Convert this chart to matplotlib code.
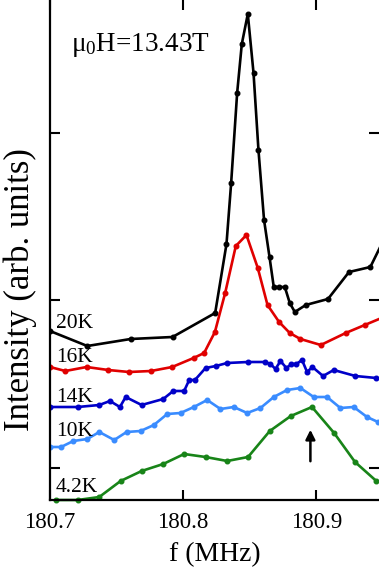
import numpy as np
import matplotlib
matplotlib.use("Agg")
import matplotlib.pyplot as plt

plt.rcParams["font.family"] = ["Liberation Serif", "DejaVu Serif"]
plt.rcParams["mathtext.fontset"] = "custom"
plt.rcParams["mathtext.rm"] = "Liberation Serif"
plt.rcParams["mathtext.it"] = "Liberation Serif:italic"

# frequency (MHz) and intensity (arb. units)
f_20K = [180.700, 180.728, 180.7605, 180.792, 180.824, 180.8325, 180.836, 180.8405,
         180.844, 180.8485, 180.8528, 180.8565, 180.8607, 180.8648, 180.868, 180.872,
         180.8763, 180.880, 180.8838, 180.892, 180.9087, 180.9245, 180.9405, 180.956]
I_20K = [169, 154, 161, 163, 187, 256, 317, 407, 456, 486, 427, 350, 280, 243, 213, 213,
         213, 197, 188, 195, 201, 228, 233, 275]

f_16K = [180.700, 180.7115, 180.7275, 180.7437, 180.7593, 180.7758, 180.7917, 180.8078,
         180.8157, 180.8238, 180.8315, 180.8395, 180.8475, 180.856, 180.8633, 180.872,
         180.880, 180.888, 180.9033, 180.922, 180.9363, 180.9525]
I_16K = [133, 129, 133, 130, 128, 129, 133, 142, 147, 168, 207, 254, 265, 232, 195, 178,
         167, 161, 155, 167, 175, 184]

f_14K = [180.700, 180.7208, 180.737, 180.745, 180.7525, 180.7568, 180.7688, 180.785,
         180.7925, 180.8007, 180.8045, 180.8088, 180.8168, 180.8245, 180.833, 180.8487,
         180.8613, 180.8655, 180.8693, 180.873, 180.8775, 180.8813, 180.885, 180.8892,
         180.893, 180.897, 180.905, 180.913, 180.9293, 180.945]
I_14K = [93, 93, 95, 99, 93, 103, 95, 101, 109, 109, 120, 120, 132, 134, 137, 138,
         138, 136, 131, 139, 132, 136, 136, 140, 128, 133, 124, 130, 124, 122]

f_10K = [180.700, 180.7083, 180.7175, 180.728, 180.737, 180.7482, 180.7575, 180.768,
         180.778, 180.788, 180.798, 180.808, 180.818, 180.828, 180.838, 180.848, 180.858,
         180.868, 180.878, 180.888, 180.898, 180.908, 180.918, 180.928, 180.938, 180.9462]
I_10K = [53, 53, 59, 61, 68, 60, 68, 69, 75, 86, 87, 93, 100, 91, 93, 87, 92,
         103, 110, 112, 103, 103, 92, 93, 83, 78]

f_4K = [180.7045, 180.7208, 180.737, 180.753, 180.7688, 180.785, 180.8007, 180.8168,
        180.833, 180.8487, 180.865, 180.8808, 180.8967, 180.9133, 180.929, 180.945]
I_4K = [0, 0, 3, 19, 29, 36, 46, 43, 39, 43, 69, 84, 93, 67, 38, 19]

series = [
    (f_20K, I_20K, "black", "20K", 177),
    (f_16K, I_16K, "#e00000", "16K", 142),
    (f_14K, I_14K, "#0000c8", "14K", 103),
    (f_10K, I_10K, "#3a8cff", "10K", 68),
    (f_4K, I_4K, "#188418", "4.2K", 12),
]

fig = plt.figure(figsize=(3.79, 5.75), dpi=100)
ax = fig.add_axes([50 / 379, 75 / 575, 329 / 379, 500 / 575])

for f, I, c, lab, ly in series:
    ax.plot(f, I, color=c, lw=1.9, marker="o", ms=3.3, clip_on=(lab != "4.2K"))
    ax.text(180.7045, ly, lab, fontsize=15.5, va="center", ha="left")

ax.annotate("", xy=(180.8955, 73), xytext=(180.8955, 36),
            arrowprops=dict(arrowstyle="-|>", color="black", lw=1.8,
                            mutation_scale=14))

ax.text(180.716, 455, r"μ$_0$H=13.43T", fontsize=19.5, va="center", ha="left")

ax.set_xlim(180.7, 180.947)
ax.set_ylim(0, 500)
ax.set_xticks([180.7, 180.8, 180.9])
ax.set_xticklabels(["180.7", "180.8", "180.9"])
ax.set_yticks([32, 200, 367])
ax.set_yticklabels([])
ax.tick_params(direction="in", length=7, width=1.5, labelsize=16.5,
               top=True, right=True, pad=9)
ax.spines["top"].set_visible(False)
ax.spines["right"].set_visible(False)
ax.spines["left"].set_linewidth(1.6)
ax.spines["bottom"].set_linewidth(1.6)
ax.set_xlabel("f (MHz)", fontsize=20, labelpad=6)
ax.set_ylabel("Intensity (arb. units)", fontsize=25)
ax.yaxis.set_label_coords(-0.04, 0.42)

fig.savefig("out.png", dpi=100)
